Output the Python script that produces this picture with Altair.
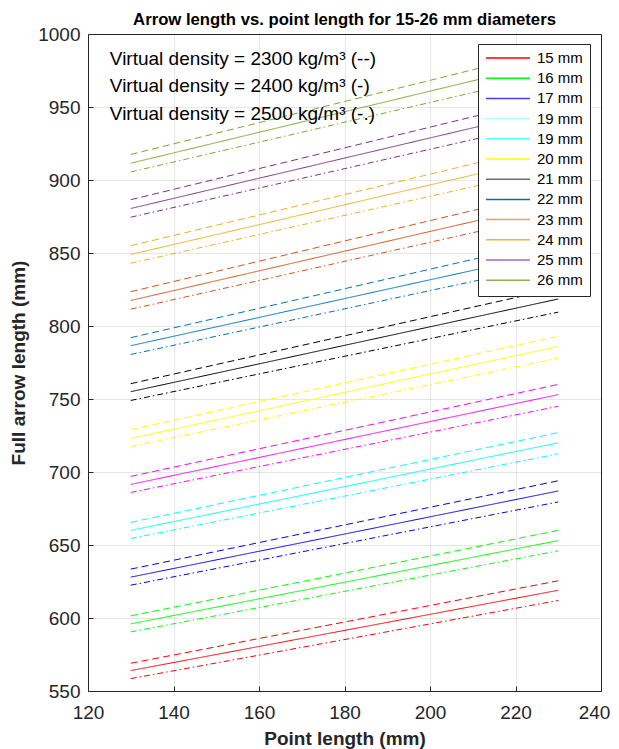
import json
import altair as alt
import pandas as pd

# ---------------- data ----------------
point_length = [130, 230]
diameters = ["15", "16", "17", "18", "19", "20", "21", "22", "23", "24", "25", "26"]
line_colors = ["#FF0000", "#00FF00", "#0000FF", "#00FFFF", "#FF00FF", "#FFFF00",
               "#000000", "#0072BD", "#D95319", "#EDB120", "#7E2F8E", "#77AC30"]
densities = ["2300", "2400", "2500"]

# full arrow length at point length 130 mm (start) and 230 mm (end)
start_2300 = [569, 601.5, 633.5, 665.5, 697, 729, 760.5, 792, 823.5, 855, 886.5, 917.5]
end_2300 = [625.5, 660, 694, 727, 760, 793, 826, 859, 893, 925, 957.5, 990]
start_2400 = [564, 596, 628, 660, 691.5, 723, 755, 786.5, 817.5, 849, 880.5, 911.5]
end_2400 = [619, 653, 687, 720, 753, 786, 818.5, 851, 885, 917, 949.5, 982]
start_2500 = [558.5, 590.5, 622.5, 654.5, 686, 717.5, 749, 780.5, 811.5, 843, 874.5, 905.5]
end_2500 = [612, 646, 679.5, 712.5, 745, 778, 809.5, 843, 877, 908.5, 941, 973.5]

legend_labels = ["15 mm", "16 mm", "17 mm", "19 mm", "19 mm", "20 mm",
                 "21 mm", "22 mm", "23 mm", "24 mm", "25 mm", "26 mm"]
legend_colors = ["#FF0000", "#00FF00", "#4040FF", "#AAFFFF", "#55FFFF", "#FFFF00",
                 "#6E6E6E", "#0B6BB0", "#E99A7E", "#F2B533", "#A46AB4", "#8AB55A"]

notes = ["Virtual density = 2300 kg/m³ (--)",
         "Virtual density = 2400 kg/m³ (-)",
         "Virtual density = 2500 kg/m³ (-.)"]
note_x = 125.1
note_y = [982.6, 964.1, 944.9]

x_ticks = [120, 140, 160, 180, 200, 220, 240]
y_ticks = [550, 600, 650, 700, 750, 800, 850, 900, 950, 1000]

# ---------------- tables ----------------
rows = []
series = {"2300": (start_2300, end_2300), "2400": (start_2400, end_2400),
          "2500": (start_2500, end_2500)}
for i, d in enumerate(diameters):
    for dens in densities:
        s, e = series[dens]
        rows.append({"diameter": d, "density": dens, "x": point_length[0], "y": s[i]})
        rows.append({"diameter": d, "density": dens, "x": point_length[1], "y": e[i]})
df = pd.DataFrame(rows)

leg_df = pd.DataFrame({"key": [str(i) for i in range(len(legend_labels))],
                       "label": legend_labels})
notes_df = pd.DataFrame({"text": notes, "x": [note_x] * len(notes), "y": note_y})

FONT = "Liberation Sans, Arial, Helvetica, sans-serif"
AX = "#262626"

x_scale = alt.Scale(domain=[120, 240], nice=False, zero=False)
y_scale = alt.Scale(domain=[550, 1000], nice=False, zero=False)
x_axis = alt.Axis(values=x_ticks, offset=-5, tickSize=5, domain=False, labelPadding=12,
                  titlePadding=7, format="d", labelFlush=False,
                  labelOffset={"condition": {"test": "datum.value >= 240", "value": -7},
                               "value": 0})
y_axis = alt.Axis(values=y_ticks, offset=-5, tickSize=5, domain=False, labelPadding=8,
                  titlePadding=9, format="d", labelFlush=False)
X_TITLE = "Point length (mm)"
Y_TITLE = "Full arrow length (mm)"

lines = alt.Chart(df).mark_line(strokeWidth=1, clip=True).encode(
    x=alt.X("x:Q", scale=x_scale, axis=x_axis, title=X_TITLE),
    y=alt.Y("y:Q", scale=y_scale, axis=y_axis, title=Y_TITLE),
    color=alt.Color("diameter:N", scale=alt.Scale(domain=diameters, range=line_colors),
                    legend=None),
    strokeDash=alt.StrokeDash("density:N",
                              scale=alt.Scale(domain=densities,
                                              range=[[7, 4], [1, 0], [6, 3, 1.5, 3]]),
                              legend=None),
)

label_expr = json.dumps(legend_labels) + "[toNumber(datum.label)]"
legend_layer = alt.Chart(leg_df).mark_line(strokeWidth=1.5).encode(
    color=alt.Color(
        "key:N",
        scale=alt.Scale(domain=list(leg_df["key"]), range=legend_colors),
        legend=alt.Legend(
            title=None, orient="none", legendX=390, legendY=10, direction="vertical",
            symbolType="stroke", symbolSize=1936, symbolStrokeWidth=1.5,
            clipHeight=14, rowPadding=5.2, labelOffset=6,
            labelFont=FONT, labelFontSize=15, labelColor="#000000",
            padding=7, fillColor="#FFFFFF", strokeColor=AX, labelExpr=label_expr,
        ),
    )
).transform_filter("false")

texts = alt.Chart(notes_df).mark_text(
    align="left", baseline="middle", font=FONT, fontSize=19, color="#000000"
).encode(
    x=alt.X("x:Q", scale=x_scale, axis=x_axis, title=X_TITLE),
    y=alt.Y("y:Q", scale=y_scale, axis=y_axis, title=Y_TITLE),
    text="text:N",
)

chart = alt.layer(lines, texts, legend_layer).resolve_scale(
    color="independent"
).properties(
    width=513, height=657,
    title=alt.TitleParams("Arrow length vs. point length for 15-26 mm diameters",
                          font=FONT, fontSize=16.7, fontWeight="bold", color="#000000",
                          anchor="middle", offset=0, dy=4),
    autosize=alt.AutoSizeParams(type="none"),
    padding={"left": 80, "top": 26, "right": 10, "bottom": 58},
).configure_view(
    stroke=AX, strokeWidth=1
).configure_axis(
    labelFont=FONT, labelFontSize=19, labelColor=AX,
    titleFont=FONT, titleFontSize=19, titleFontWeight="bold", titleColor=AX,
    tickColor=AX, tickWidth=1,
    gridColor="#262626", gridOpacity=0.11, gridWidth=1,
)

chart.save("out.html", embed_options={"renderer": "svg", "actions": False})
